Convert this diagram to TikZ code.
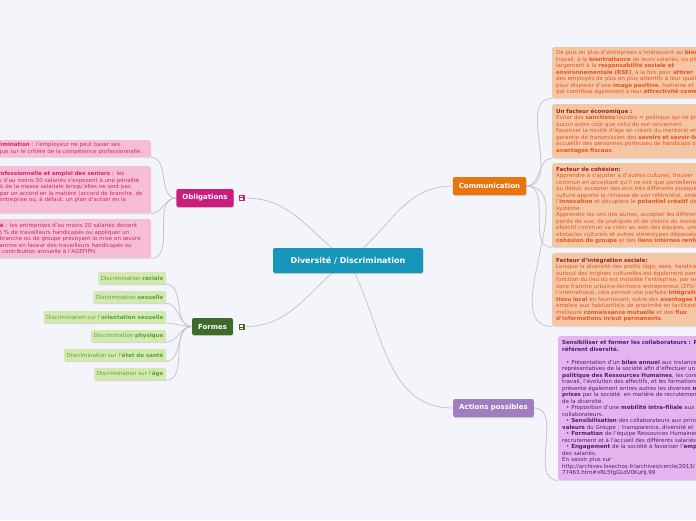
\documentclass[tikz,border=0pt]{standalone}
\usepackage{fontspec}
\setmainfont{DejaVu Sans}
\usetikzlibrary{positioning, shadows, backgrounds}

\definecolor{bgpage}{RGB}{243,245,251}
\definecolor{linkgray}{RGB}{196,198,204}
\definecolor{rootblue}{RGB}{22,150,186}
\definecolor{commorange}{RGB}{234,116,14}
\definecolor{obligpink}{RGB}{204,27,124}
\definecolor{formgreen}{RGB}{62,106,44}
\definecolor{actpurple}{RGB}{160,124,192}
\definecolor{peachfill}{RGB}{244,198,164}
\definecolor{peachtext}{RGB}{232,84,34}
\definecolor{peachhead}{RGB}{150,44,30}
\definecolor{pinkfill}{RGB}{246,190,214}
\definecolor{pinktext}{RGB}{206,40,104}
\definecolor{leafgreen}{RGB}{212,232,176}
\definecolor{greentext}{RGB}{78,170,58}
\definecolor{lilacfill}{RGB}{228,180,238}
\definecolor{lilactext}{RGB}{84,30,110}

\begin{document}
\begin{tikzpicture}[x=1pt, y=-1pt,
  font=\fontsize{5.5}{6.5}\selectfont,
  link/.style={draw=linkgray, line width=0.8pt},
  topic/.style={fill=#1, rounded corners=2pt, text=white, inner xsep=6pt, inner ysep=0pt,
    minimum height=18pt, font=\fontsize{7}{8}\selectfont\bfseries,
    drop shadow={shadow xshift=0.4pt, shadow yshift=-1.2pt, opacity=0.3}},
  fold/.style={fill=#1, draw=white, line width=0.4pt, minimum size=7pt, inner sep=0pt},
  peachleaf/.style={fill=peachfill, text=peachtext, anchor=north west, text width=250pt,
    align=left, inner xsep=4pt, inner ysep=3pt, rounded corners=2pt,
    drop shadow={shadow xshift=0.3pt, shadow yshift=-1pt, opacity=0.2}},
  lilacleaf/.style={peachleaf, fill=lilacfill, text=lilactext},
  pinkleaf/.style={fill=pinkfill, text=pinktext, anchor=north east, text width=176pt,
    align=left, inner xsep=4pt, inner ysep=2pt, rounded corners=2pt,
    drop shadow={shadow xshift=0.3pt, shadow yshift=-1pt, opacity=0.2}},
  greenleaf/.style={fill=leafgreen, text=greentext, anchor=east, inner xsep=2.5pt,
    inner ysep=0pt, minimum height=12pt, rounded corners=1pt,
    drop shadow={shadow xshift=0.3pt, shadow yshift=-1pt, opacity=0.25}}]

\useasboundingbox (0,0) rectangle (696,520);
\clip (0,0) rectangle (696,520);

% Central topic
\node[topic=rootblue, minimum width=150pt, minimum height=25pt,
  font=\fontsize{8}{9}\selectfont\bfseries] (root) at (348,260.5) {Diversité / Discrimination};

% Main branches
\node[topic=commorange] (comm) at (489.5,186) {Communication};
\node[topic=obligpink] (oblig) at (205,198) {Obligations};
\node[fold=obligpink] (oblfold) at (241.5,198) {};
\node[topic=formgreen, minimum height=17pt] (formes) at (212.5,326.5) {Formes};
\node[fold=formgreen] (formfold) at (241.5,326.5) {};
\node[topic=actpurple] (acts) at (493.5,408) {Actions possibles};

\foreach \n in {oblfold, formfold}
  \foreach \dy in {-1.6,0,1.6}
    \draw[white, line width=0.5pt] ([xshift=-1.8pt, yshift=\dy pt]\n.center) -- ([xshift=1.8pt, yshift=\dy pt]\n.center);

% Communication
\node[peachleaf, minimum height=51pt] (bienetre) at (552,47) {De plus en plus d'entreprises s'intéressent au \textbf{bien-être}\\
travail, à la \textbf{bientraitance} de leurs salariés, ou plus\\
largement à la \textbf{responsabilité sociale et}\\
\textbf{environnementale (RSE)}, à la fois pour \textbf{attirer}\\
des employés de plus en plus attentifs à leur qualité\\
pour disposer d'une \textbf{image positive}, humaine et\\
qui contribue également à leur \textbf{attractivité commerciale}.};
\node[peachleaf, minimum height=54pt] (eco) at (552,104) {\textcolor{peachhead}{\textbf{Un facteur économique :}}\\
*Eviter des \textbf{sanctions} lourdes = politique qui ne présente\\
aucun autre coût que celui de son lancement.\\
*Favoriser la mixité d'âge en créant du mentorat en\\
garantie de transmission des \textbf{savoirs et savoir-faire}\\
accueillir des personnes porteuses de handicaps offre\\
\textbf{avantages fiscaux}.};
\node[peachleaf, minimum height=84pt] (cohesion) at (552,163) {\textcolor{peachhead}{\textbf{Facteur de cohésion:}}\\
*Apprendre à s'ajuster à d'autres cultures, trouver\\
commun en acceptant qu'il ne soit que partiellement\\
au début, accepter des avis très différents puisque\\
culture apporte la richesse de son référentiel, amènera\\
l'\textbf{innovation} et décuplera le \textbf{potentiel créatif} de\\
système.\\
*Apprendre les uns des autres, accepter les différences\\
points de vue, de pratiques et de visions du monde\\
objectif commun va créer au sein des équipes, une\\
obstacles culturels et autres stéréotypes dépassés\\
\textbf{cohésion de groupe} et des \textbf{liens internes renforcés}};
\node[peachleaf, minimum height=73pt] (integration) at (552,253) {\textcolor{peachhead}{\textbf{Facteur d'intégration sociale:}}\\
Lorsque la diversité des profils (âge, sexe, handicap\\
surtout des origines culturelles est également pensée\\
fonction du lieu où est installée l'entreprise, par exemple\\
zone franche urbaine-territoire entrepreneur (ZFU-TE)\\
l'international, cela permet une parfaite \textbf{intégration}\\
\textbf{tissu local} en fournissant, outre des \textbf{avantages fiscaux}\\
emplois aux habitant(e)s de proximité en facilitant\\
meilleure \textbf{connaissance mutuelle} et des \textbf{flux}\\
\textbf{d'informations in/out permanents}.};

% Actions possibles
\node[lilacleaf, minimum height=144pt] (sensib) at (558,336) {\textbf{Sensibiliser et former les collaborateurs : Rôle du}\\
\textbf{référent diversité.}\\[6.5pt]
\hspace*{4pt}• Présentation d'un \textbf{bilan annuel} aux instances\\
représentatives de la société afin d'effectuer un bilan\\
\textbf{politique des Ressources Humaines}, les conditions\\
travail, l'évolution des effectifs, et les formations\\
présente également entres autres les diverses \textbf{mesures}\\
\textbf{prises} par la société~ en matière de recrutement\\
de la diversité.\\
\hspace*{4pt}• Proposition d'une \textbf{mobilité intra-filiale} aux\\
collaborateurs.\\
\hspace*{4pt}• \textbf{Sensibilisation} des collaborateurs aux principes\\
\textbf{valeurs} du Groupe : transparence, diversité et\\
\hspace*{4pt}• \textbf{Formation} de l'équipe Ressources Humaines\\
recrutement et à l'accueil des différents salariés\\
\hspace*{4pt}• \textbf{Engagement} de la société à favoriser l'\textbf{emploi}\\
des salariés.\\
En savoir plus sur\\
http://archives.lesechos.fr/archives/cercle/2013/\\
77463.htm\#xRL5fgGLdV0KuHj.99};

% Obligations
\node[pinkleaf, minimum height=17pt] (nondisc) at (151,140) {\textbf{Non-discrimination} : l'employeur ne peut baser ses\\
décisions que sur le critère de la compétence professionnelle.};
\node[pinkleaf, minimum height=47pt] (seniors) at (151,166) {\textbf{Égalité professionnelle et emploi des seniors} : les\\
entreprises d'au moins 50 salariés s'exposent à une pénalité\\
égale à 1 \% de la masse salariale lorsqu'elles ne sont pas\\
couvertes par un accord en la matière (accord de branche, de\\
groupe, d'entreprise ou, à défaut, un plan d'action en la\\
matière).};
\node[pinkleaf, minimum height=39pt] (handicap) at (151,219) {\textbf{Handicapé} : les entreprises d'au moins 20 salariés doivent\\
employer 6 \% de travailleurs handicapés ou appliquer un\\
accord de branche ou de groupe prévoyant la mise en œuvre\\
d'un programme en faveur des travailleurs handicapés ou\\
verser une contribution annuelle à l'AGEFIPH.};

% Formes
\node[greenleaf] (raciale) at (166,278) {Discrimination \textbf{raciale}};
\node[greenleaf] (sexuelle) at (166,297) {Discrimination \textbf{sexuelle}};
\node[greenleaf] (orientation) at (166,317) {Discrimination sur l'\textbf{orientation sexuelle}};
\node[greenleaf] (physique) at (166,336) {Discrimination \textbf{physique}};
\node[greenleaf] (sante) at (166,355) {Discrimination sur l'\textbf{état de santé}};
\node[greenleaf] (age) at (166,374) {Discrimination sur l'\textbf{âge}};

% Connectors
\begin{scope}[on background layer]
\fill[bgpage] (0,0) rectangle (696,520);
\draw[link] (root.center) to[out=145,in=0] (oblfold.east);
\draw[link] (root.center) to[out=35,in=180] (comm.west);
\draw[link] (root.center) to[out=215,in=0] (formfold.east);
\draw[link] (root.center) to[out=-60,in=180] (acts.west);

\draw[link] (comm.east) to[out=0,in=180] (bienetre.south west);
\draw[link] (comm.east) to[out=0,in=180] (eco.south west);
\draw[link] (comm.east) to[out=0,in=180] (cohesion.south west);
\draw[link] (comm.east) to[out=0,in=180] (integration.south west);
\draw[link] (acts.east) to[out=0,in=180] (sensib.south west);

\draw[link] (oblig.west) to[out=180,in=0] (nondisc.south east);
\draw[link] (oblig.west) to[out=180,in=0] (seniors.south east);
\draw[link] (oblig.west) to[out=180,in=0] (handicap.south east);

\draw[link] (formes.west) to[out=180,in=0] (raciale.south east);
\draw[link] (formes.west) to[out=180,in=0] (sexuelle.south east);
\draw[link] (formes.west) to[out=180,in=0] (orientation.south east);
\draw[link] (formes.west) to[out=180,in=0] (physique.south east);
\draw[link] (formes.west) to[out=180,in=0] (sante.south east);
\draw[link] (formes.west) to[out=180,in=0] (age.south east);
\end{scope}

\end{tikzpicture}
\end{document}
